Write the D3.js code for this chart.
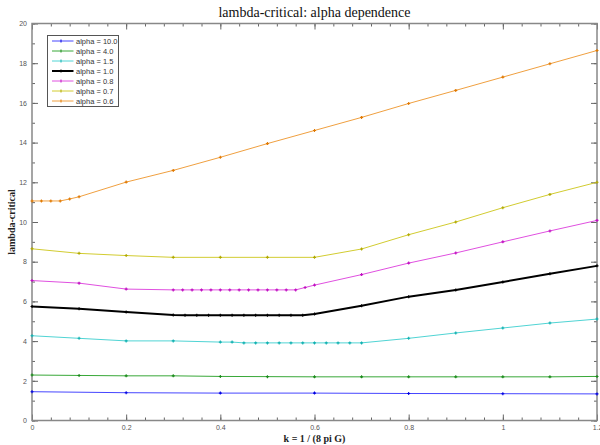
<!DOCTYPE html>
<html>
<head>
<meta charset="utf-8">
<script src="https://cdn.jsdelivr.net/npm/d3@7"></script>
<style>
  body { margin: 0; background: #fff; }
  .tick text { font-family: "Liberation Sans", Arial, sans-serif; font-size: 7px; fill: #555; }
</style>
</head>
<body>
<div id="chart-area"></div>
<script>
// series values (k, lambda-critical)
var k_a10   = [0, 0.2, 0.4, 0.6, 0.8, 1.0, 1.2];
var lam_a10 = [1.45, 1.40, 1.38, 1.38, 1.36, 1.35, 1.34];

var k_a4    = [0, 0.1, 0.2, 0.3, 0.4, 0.5, 0.6, 0.7, 0.8, 0.9, 1.0, 1.1, 1.2];
var lam_a4  = [2.29, 2.27, 2.25, 2.25, 2.22, 2.21, 2.20, 2.20, 2.20, 2.20, 2.20, 2.20, 2.22];

var k_a15   = [0, 0.1, 0.2, 0.3, 0.4, 0.425, 0.45, 0.475, 0.5, 0.525, 0.55, 0.575, 0.6, 0.625, 0.65, 0.675, 0.7, 0.8, 0.9, 1.0, 1.1, 1.2];
var lam_a15 = [4.27, 4.14, 4.01, 4.01, 3.95, 3.95, 3.91, 3.91, 3.91, 3.91, 3.91, 3.91, 3.91, 3.91, 3.91, 3.91, 3.91, 4.14, 4.41, 4.66, 4.91, 5.11];

var k_a1    = [0, 0.1, 0.2, 0.3, 0.325, 0.35, 0.375, 0.4, 0.425, 0.45, 0.475, 0.5, 0.525, 0.55, 0.575, 0.6, 0.7, 0.8, 0.9, 1.0, 1.1, 1.2];
var lam_a1  = [5.74, 5.63, 5.46, 5.31, 5.30, 5.30, 5.30, 5.30, 5.30, 5.30, 5.30, 5.30, 5.30, 5.30, 5.30, 5.36, 5.78, 6.24, 6.58, 6.98, 7.39, 7.79];

var k_a08   = [0, 0.1, 0.2, 0.3, 0.32, 0.34, 0.36, 0.38, 0.4, 0.42, 0.44, 0.46, 0.48, 0.5, 0.52, 0.54, 0.56, 0.58, 0.6, 0.7, 0.8, 0.9, 1.0, 1.1, 1.2];
var lam_a08 = [7.05, 6.92, 6.62, 6.58, 6.58, 6.58, 6.58, 6.58, 6.58, 6.58, 6.58, 6.58, 6.58, 6.58, 6.58, 6.58, 6.58, 6.70, 6.82, 7.35, 7.93, 8.44, 9.00, 9.55, 10.08];

var k_a07   = [0, 0.1, 0.2, 0.3, 0.4, 0.5, 0.6, 0.7, 0.8, 0.9, 1.0, 1.1, 1.2];
var lam_a07 = [8.65, 8.42, 8.31, 8.22, 8.22, 8.22, 8.22, 8.64, 9.36, 10.00, 10.72, 11.39, 12.00];

var k_a06   = [0, 0.02, 0.04, 0.06, 0.08, 0.1, 0.2, 0.3, 0.4, 0.5, 0.6, 0.7, 0.8, 0.9, 1.0, 1.1, 1.2];
var lam_a06 = [11.06, 11.06, 11.06, 11.06, 11.16, 11.27, 12.01, 12.60, 13.26, 13.95, 14.61, 15.27, 15.97, 16.63, 17.30, 17.97, 18.64];

var seriesNames  = ["alpha = 10.0", "alpha = 4.0", "alpha = 1.5", "alpha = 1.0", "alpha = 0.8", "alpha = 0.7", "alpha = 0.6"];
var seriesK      = [k_a10, k_a4, k_a15, k_a1, k_a08, k_a07, k_a06];
var seriesLam    = [lam_a10, lam_a4, lam_a15, lam_a1, lam_a08, lam_a07, lam_a06];
var seriesColors = ["#4646ff", "#38a838", "#50d4d4", "#000000", "#e050e0", "#d2cc30", "#f0a040"];
var markColors   = ["#0000e0", "#1a8a1a", "#10b0b0", "#000000", "#c010c0", "#b0a800", "#e07800"];

var xTicks = [0, 0.2, 0.4, 0.6, 0.8, 1, 1.2];
var yTicks = [0, 2, 4, 6, 8, 10, 12, 14, 16, 18, 20];

var width = 600, height = 445;
var pLeft = 32, pRight = 597, pTop = 23.5, pBottom = 420.5;

var svg = d3.select("#chart-area").append("svg")
    .attr("width", width)
    .attr("height", height);

var x = d3.scaleLinear().domain([0, 1.2]).range([pLeft, pRight]);
var y = d3.scaleLinear().domain([0, 20]).range([pBottom, pTop]);

// minor + major ticks, all pointing inward, on all four sides
var xMinor = d3.range(0, 1.2001, 0.04);
var yMinor = d3.range(0, 20.001, 1);

function tickAxis(axisFn, scale, vals, size, labels) {
    var a = axisFn(scale).tickValues(vals).tickSizeInner(-size).tickSizeOuter(0).tickPadding(5);
    if (!labels) a.tickFormat("");
    else a.tickFormat(d3.format(""));
    return a;
}

svg.append("g").attr("transform", "translate(0," + pBottom + ")")
    .call(tickAxis(d3.axisBottom, x, xMinor, 3, false));
svg.append("g").attr("transform", "translate(0," + pTop + ")")
    .call(tickAxis(d3.axisTop, x, xMinor, 3, false));
svg.append("g").attr("transform", "translate(" + pLeft + ",0)")
    .call(tickAxis(d3.axisLeft, y, yMinor, 3, false));
svg.append("g").attr("transform", "translate(" + pRight + ",0)")
    .call(tickAxis(d3.axisRight, y, yMinor, 3, false));

svg.append("g").attr("class", "xaxis").attr("transform", "translate(0," + pBottom + ")")
    .call(tickAxis(d3.axisBottom, x, xTicks, 6, true));
svg.append("g").attr("transform", "translate(0," + pTop + ")")
    .call(tickAxis(d3.axisTop, x, xTicks, 6, false));
svg.append("g").attr("class", "yaxis").attr("transform", "translate(" + pLeft + ",0)")
    .call(tickAxis(d3.axisLeft, y, yTicks, 6, true));
svg.append("g").attr("transform", "translate(" + pRight + ",0)")
    .call(tickAxis(d3.axisRight, y, yTicks, 6, false));

svg.selectAll(".domain").remove();
svg.selectAll(".tick line").attr("stroke", "#666");

// frame
svg.append("rect")
    .attr("x", pLeft).attr("y", pTop)
    .attr("width", pRight - pLeft).attr("height", pBottom - pTop)
    .attr("fill", "none")
    .attr("stroke", "#888")
    .attr("stroke-width", 1.5);

// lines and + markers
var line = d3.line()
    .x(function(d) { return x(d[0]); })
    .y(function(d) { return y(d[1]); });

for (var s = 0; s < seriesNames.length; s++) {
    var pts = d3.zip(seriesK[s], seriesLam[s]);
    svg.append("path")
        .datum(pts)
        .attr("d", line)
        .attr("fill", "none")
        .attr("stroke", seriesColors[s])
        .attr("stroke-width", s == 3 ? 2 : 1);

    svg.append("g").selectAll("path")
        .data(pts)
        .enter()
        .append("path")
        .attr("d", function(d) {
            var cx = x(d[0]), cy = y(d[1]);
            return "M" + (cx - 1.5) + "," + cy + "H" + (cx + 1.5) + "M" + cx + "," + (cy - 1.5) + "V" + (cy + 1.5);
        })
        .attr("stroke", markColors[s])
        .attr("stroke-width", 1.1);
}

// legend
var legend = svg.append("g");
legend.append("rect")
    .attr("x", 47.5).attr("y", 35.5)
    .attr("width", 71).attr("height", 71)
    .attr("fill", "#fff")
    .attr("stroke", "#555")
    .attr("stroke-width", 1);

seriesNames.forEach(function(name, i) {
    var ly = 41 + i * 10;
    legend.append("line")
        .attr("x1", 52).attr("x2", 73.5)
        .attr("y1", ly).attr("y2", ly)
        .attr("stroke", seriesColors[i])
        .attr("stroke-width", i == 3 ? 2 : 1);
    legend.append("path")
        .attr("d", "M61,"+ (ly - 1.5) + "V" + (ly + 1.5))
        .attr("stroke", markColors[i]);
    legend.append("text")
        .attr("x", 76).attr("y", ly + 2.5)
        .attr("font-family", "Liberation Sans, Arial, sans-serif")
        .attr("font-size", "7.5px")
        .attr("fill", "#333")
        .text(name);
});

// titles
svg.append("text")
    .attr("x", (pLeft + pRight) / 2).attr("y", 17)
    .attr("text-anchor", "middle")
    .attr("font-family", "Liberation Serif, serif")
    .attr("font-size", "14px")
    .attr("fill", "#111")
    .text("lambda-critical: alpha dependence");

svg.append("text")
    .attr("x", (pLeft + pRight) / 2).attr("y", 442)
    .attr("text-anchor", "middle")
    .attr("font-family", "Liberation Serif, serif")
    .attr("font-weight", "bold")
    .attr("font-size", "10px")
    .attr("fill", "#222")
    .text("k = 1 / (8 pi G)");

svg.append("text")
    .attr("transform", "translate(15," + (pTop + pBottom) / 2 + ") rotate(-90)")
    .attr("text-anchor", "middle")
    .attr("font-family", "Liberation Serif, serif")
    .attr("font-weight", "bold")
    .attr("font-size", "10px")
    .attr("fill", "#222")
    .text("lambda-critical");
</script>
</body>
</html>
